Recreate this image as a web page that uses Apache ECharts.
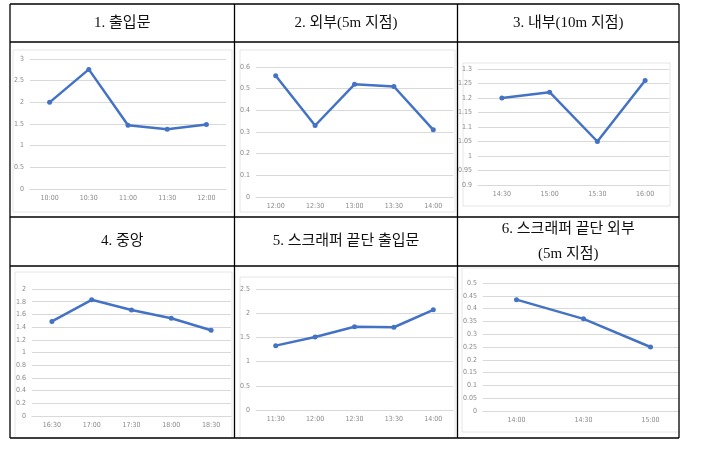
<!DOCTYPE html>
<html><head><meta charset="utf-8">
<script src="https://cdn.jsdelivr.net/npm/echarts@6/dist/echarts.min.js"></script>
<style>html,body{margin:0;padding:0;background:#fff}#c{width:704px;height:462px}</style>
</head><body><div id="c"></div>
<script>
// ---- data ----
const titles = ['1. 출입문', '2. 외부(5m 지점)', '3. 내부(10m 지점)', '4. 중앙', '5. 스크래퍼 끝단 출입문', '6. 스크래퍼 끝단 외부\n(5m 지점)'];
const cats1 = ['10:00', '10:30', '11:00', '11:30', '12:00'];
const vals1 = [2.0, 2.76, 1.47, 1.38, 1.49];
const cats2 = ['12:00', '12:30', '13:00', '13:30', '14:00'];
const vals2 = [0.56, 0.33, 0.52, 0.51, 0.31];
const cats3 = ['14:30', '15:00', '15:30', '16:00'];
const vals3 = [1.2, 1.22, 1.05, 1.26];
const cats4 = ['16:30', '17:00', '17:30', '18:00', '18:30'];
const vals4 = [1.49, 1.83, 1.67, 1.54, 1.35];
const cats5 = ['11:30', '12:00', '12:30', '13:30', '14:00'];
const vals5 = [1.33, 1.51, 1.72, 1.71, 2.07];
const cats6 = ['14:00', '14:30', '15:00'];
const vals6 = [0.435, 0.36, 0.25];
const yRanges = [[0, 3, 0.5], [0, 0.6, 0.1], [0.9, 1.3, 0.05], [0, 2, 0.2], [0, 2.5, 0.5], [0, 0.5, 0.05]];

const cats = [cats1, cats2, cats3, cats4, cats5, cats6];
const vals = [vals1, vals2, vals3, vals4, vals5, vals6];

// ---- layout ----
const grids = [
  {left: 30, top: 59, width: 196, height: 130},
  {left: 256, top: 67, width: 197, height: 130},
  {left: 478, top: 69, width: 191, height: 116},
  {left: 32, top: 289, width: 199, height: 127},
  {left: 256, top: 289, width: 197, height: 121},
  {left: 483, top: 283, width: 201, height: 128}
];
const panels = [
  [13, 50, 219, 162], [240, 50, 215, 162], [463, 63, 207, 143],
  [15, 272, 217, 166], [240, 277, 215, 161], [462, 268, 218, 164]
];
const T = {x0: 10, x1: 234.5, x2: 457.5, x3: 679, y0: 4, y1: 42, y2: 217, y3: 266, y4: 438};

const labelColor = '#8a8a8a';
const gridColor = '#d9d9d9';
const lineColor = '#4472C4';
const fmt = v => String(+v.toFixed(2));

const xAxis = [], yAxis = [], series = [];
for (let i = 0; i < 6; i++) {
  xAxis.push({
    type: 'category', gridIndex: i, data: cats[i], boundaryGap: true,
    axisLine: {show: true, lineStyle: {color: gridColor, width: 1}},
    axisTick: {show: false},
    axisLabel: {color: labelColor, fontSize: 7, margin: 6, fontFamily: 'Liberation Sans Narrow, DejaVu Sans Condensed, sans-serif'}
  });
  yAxis.push({
    type: 'value', gridIndex: i, min: yRanges[i][0], max: yRanges[i][1], interval: yRanges[i][2],
    axisLine: {show: false}, axisTick: {show: false},
    splitLine: {lineStyle: {color: gridColor, width: 1}},
    axisLabel: {color: labelColor, fontSize: 7, margin: 6, formatter: fmt, fontFamily: 'Liberation Sans Narrow, DejaVu Sans Condensed, sans-serif'}
  });
  series.push({
    type: 'line', xAxisIndex: i, yAxisIndex: i, data: vals[i],
    symbol: 'circle', symbolSize: 5, showSymbol: true,
    lineStyle: {color: lineColor, width: 2.5},
    itemStyle: {color: lineColor},
    animation: false
  });
}

const graphic = [];
// chart panels
panels.forEach(p => graphic.push({
  type: 'rect', shape: {x: p[0], y: p[1], width: p[2], height: p[3]},
  style: {fill: 'none', stroke: '#e6e6e6', lineWidth: 1}, z: -1
}));
// mask to the right of the table
graphic.push({type: 'rect', shape: {x: T.x3 + 0.5, y: 0, width: 30, height: 462}, style: {fill: '#fff'}, z: 50});
// table lines
const L = (x1, y1, x2, y2) => graphic.push({type: 'line', shape: {x1, y1, x2, y2}, style: {stroke: '#000', lineWidth: 1.3}, z: 100});
[T.y0, T.y1, T.y2, T.y3, T.y4].forEach(y => L(T.x0, y, T.x3, y));
[T.x0, T.x1, T.x2, T.x3].forEach(x => L(x, T.y0, x, T.y4));
// titles
const centers = [(T.x0 + T.x1) / 2, (T.x1 + T.x2) / 2, (T.x2 + T.x3) / 2];
titles.forEach((t, i) => {
  const cx = centers[i % 3];
  const cy = i < 3 ? (T.y0 + T.y1) / 2 : (T.y2 + T.y3) / 2;
  graphic.push({
    type: 'text', x: cx, y: cy, z: 100,
    style: {text: t, fill: '#111', fontSize: 15, lineHeight: 25, align: 'center', verticalAlign: 'middle',
      fontFamily: 'Liberation Serif, "Noto Sans CJK KR", serif'}
  });
});

const chart = echarts.init(document.getElementById('c'), null, {renderer: 'canvas'});
chart.setOption({
  animation: false,
  grid: grids.map(g => Object.assign({containLabel: false}, g)),
  xAxis, yAxis, series, graphic
});
</script></body></html>
